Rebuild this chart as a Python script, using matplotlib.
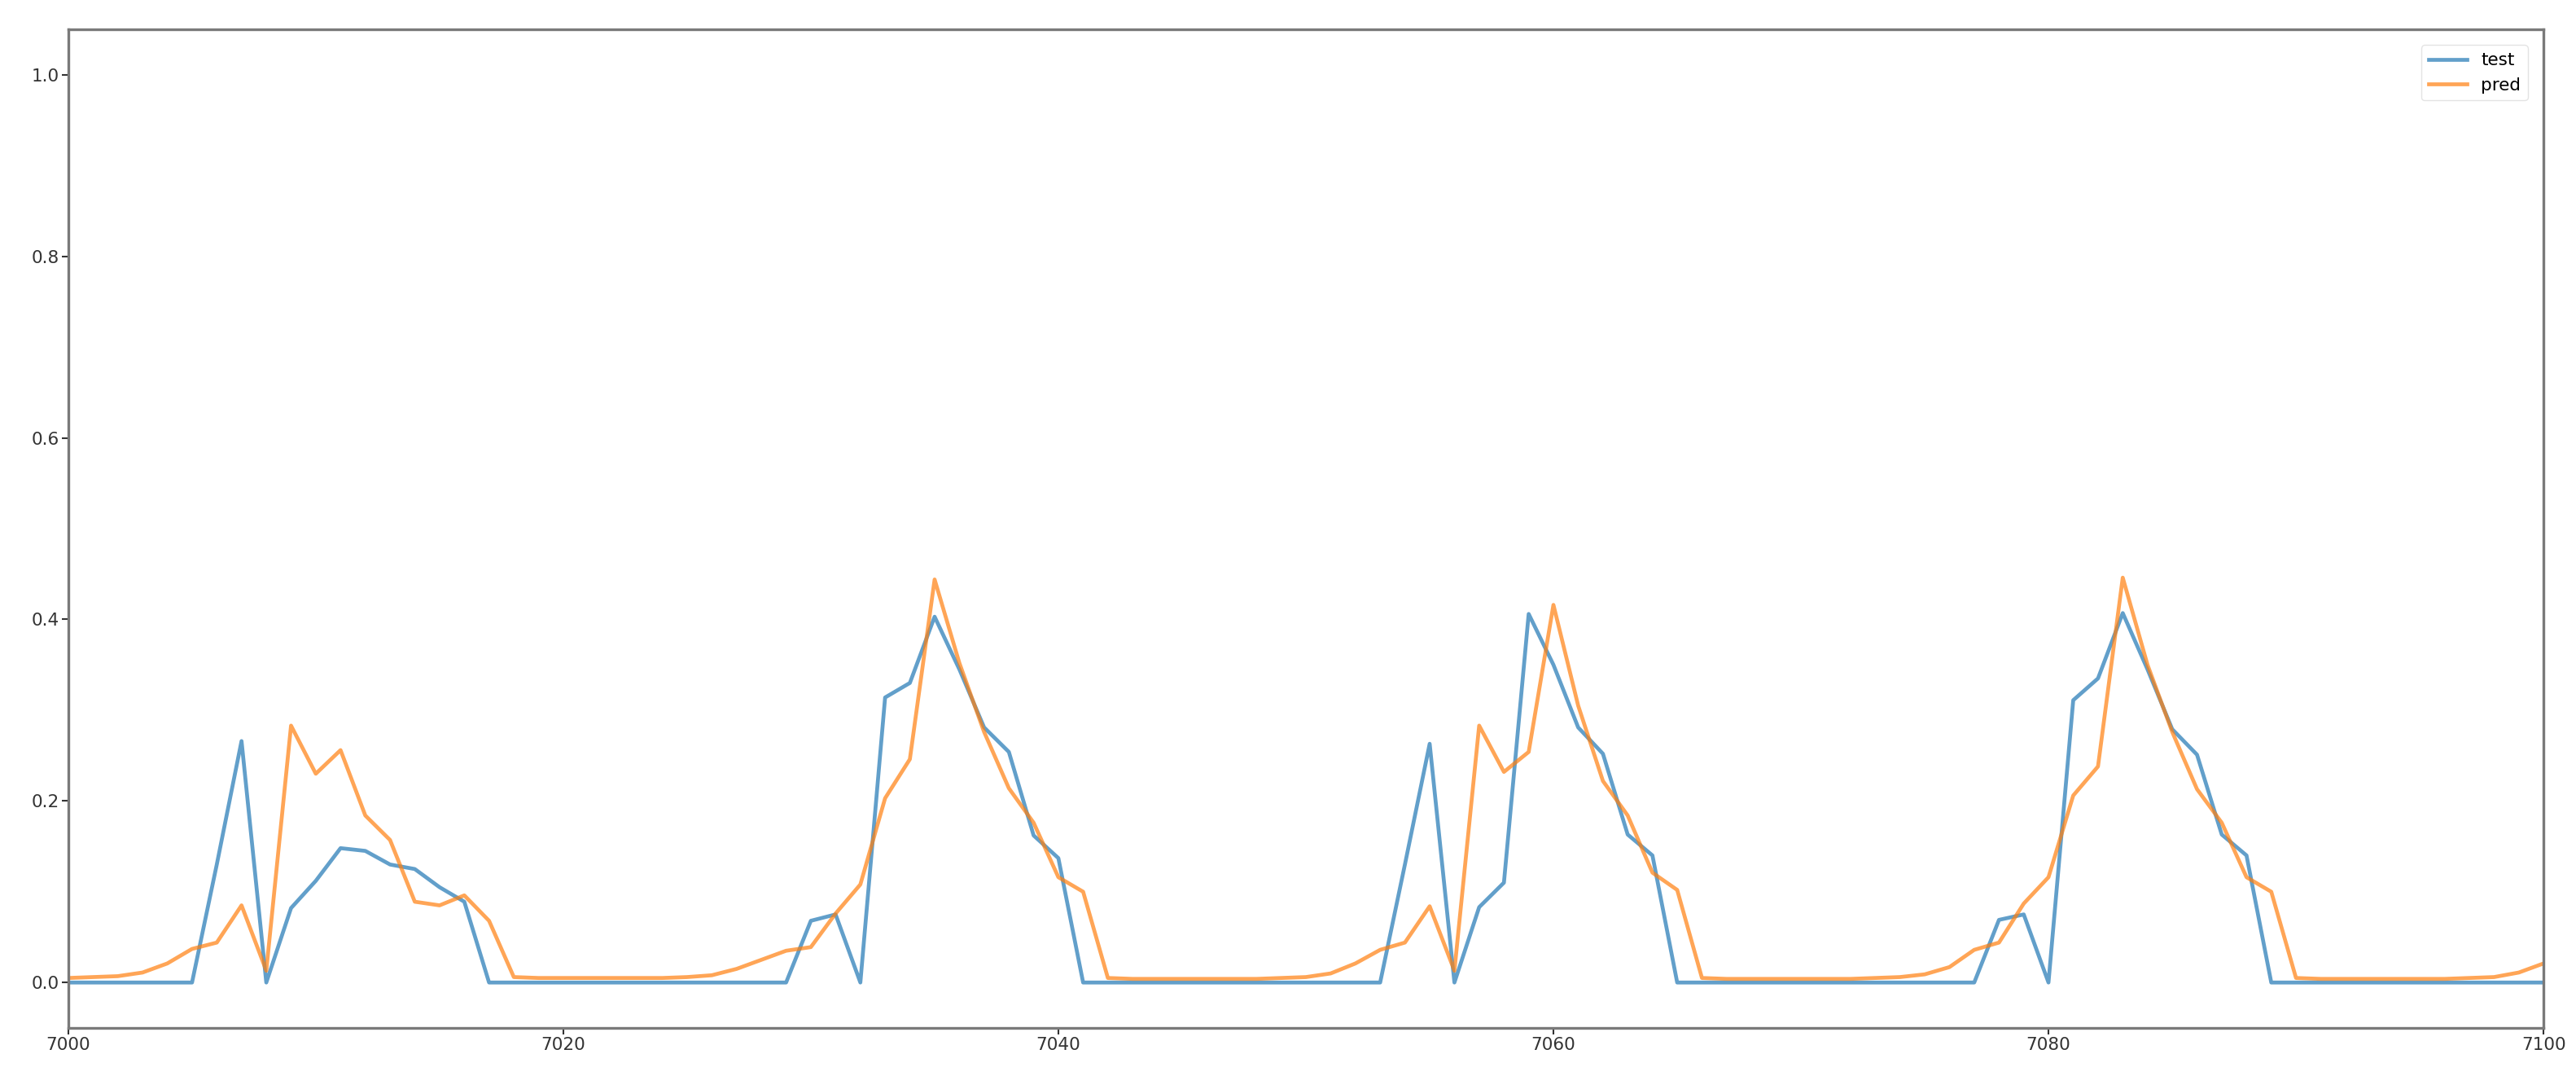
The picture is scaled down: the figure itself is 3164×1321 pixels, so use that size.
import matplotlib
matplotlib.use("Agg")
import numpy as np
import matplotlib.pyplot as plt

# ── data (index 7000..7100) ──────────────────────────────────────────────────
index = np.arange(7000, 7101)

test = [
    0, 0, 0, 0, 0, 0,
    0.13, 0.266, 0.0, 0.082, 0.112, 0.148, 0.145, 0.130, 0.125, 0.105, 0.089,
    0, 0, 0, 0, 0, 0, 0, 0, 0, 0, 0, 0, 0,
    0.068, 0.075, 0.0, 0.314, 0.330, 0.403, 0.345, 0.281, 0.254, 0.162, 0.137,
    0, 0, 0, 0, 0, 0, 0, 0, 0, 0, 0, 0, 0,
    0.13, 0.263, 0.0, 0.083, 0.110, 0.406, 0.350, 0.281, 0.252, 0.163, 0.140,
    0, 0, 0, 0, 0, 0, 0, 0, 0, 0, 0, 0, 0,
    0.069, 0.075, 0.0, 0.311, 0.335, 0.407, 0.345, 0.279, 0.251, 0.163, 0.140,
    0, 0, 0, 0, 0, 0, 0, 0, 0, 0, 0, 0,
]

pred = [
    0.005, 0.006, 0.007, 0.011, 0.021, 0.037, 0.044, 0.085, 0.013, 0.283,
    0.230, 0.256, 0.184, 0.157, 0.089, 0.085, 0.096, 0.068, 0.006,
    0.005, 0.005, 0.005, 0.005, 0.005, 0.005,
    0.006, 0.008, 0.015, 0.025, 0.035, 0.039, 0.076, 0.108, 0.203, 0.246,
    0.444, 0.352, 0.276, 0.214, 0.176, 0.116, 0.100, 0.005,
    0.004, 0.004, 0.004, 0.004, 0.004, 0.004,
    0.005, 0.006, 0.010, 0.021, 0.036, 0.044, 0.084, 0.013, 0.283, 0.232,
    0.254, 0.416, 0.305, 0.222, 0.184, 0.121, 0.102, 0.005,
    0.004, 0.004, 0.004, 0.004, 0.004, 0.004,
    0.005, 0.006, 0.009, 0.017, 0.036, 0.044, 0.087, 0.116, 0.206, 0.238,
    0.446, 0.350, 0.276, 0.213, 0.176, 0.116, 0.100, 0.005,
    0.004, 0.004, 0.004, 0.004, 0.004, 0.004,
    0.005, 0.006, 0.011, 0.021,
]

x_ticks = [7000, 7020, 7040, 7060, 7080, 7100]
y_ticks = [0.0, 0.2, 0.4, 0.6, 0.8, 1.0]

# ── figure ───────────────────────────────────────────────────────────────────
plt.rcParams["font.size"] = 15

fig = plt.figure(figsize=(31.64, 13.21), dpi=100)
ax = fig.add_axes([0.0265, 0.0447, 0.9609, 0.928])

ax.plot(index, test, color="tab:blue", lw=3.4, alpha=0.7, label="test")
ax.plot(index, pred, color="tab:orange", lw=3.4, alpha=0.7, label="pred")

ax.set_xlim(7000, 7100)
ax.set_ylim(-0.05, 1.05)
ax.set_xticks(x_ticks)
ax.set_yticks(y_ticks)
ax.set_yticklabels([f"{v:.1f}" for v in y_ticks])
ax.tick_params(colors="#333333", length=6, width=1.5, labelsize=15.5, pad=2)

for s in ax.spines.values():
    s.set_color("#7a7a7a")
    s.set_linewidth(2.4)

leg = ax.legend(loc="upper right", fontsize=15.5, handlelength=2.2,
                borderaxespad=0.9)
leg.get_frame().set_edgecolor("#dddddd")

fig.savefig("out.png", dpi=100)
